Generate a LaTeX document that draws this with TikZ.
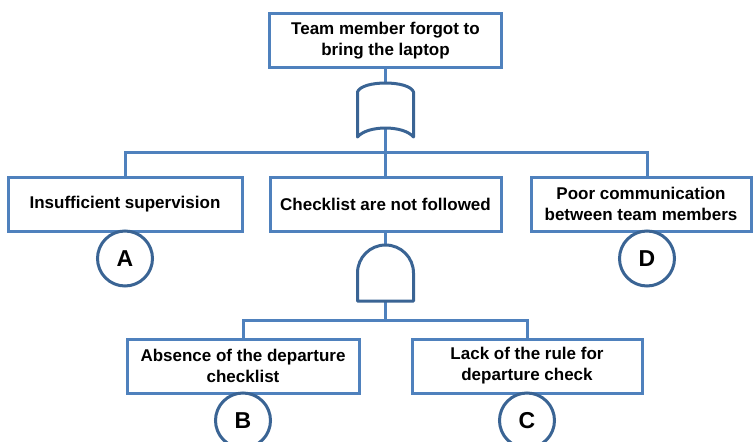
\documentclass[tikz,border=0pt]{standalone}
\usepackage{fontspec}
\setmainfont{Liberation Sans}
\usetikzlibrary{positioning}
\definecolor{boxblue}{HTML}{4F81BD}
\definecolor{gatedark}{HTML}{3A6494}

\begin{document}
\begin{tikzpicture}[
  x=1pt,y=-1pt,
  box/.style={draw=boxblue,line width=3pt,fill=white,minimum height=54pt,inner sep=2pt,align=center,font=\bfseries\fontsize{17}{21}\selectfont},
  evt/.style={circle,draw=gatedark,line width=3pt,fill=white,minimum size=55pt,inner sep=0pt,font=\bfseries\fontsize{23}{26}\selectfont},
  gate/.style={draw=gatedark,line width=3pt,fill=white,line join=round},
  link/.style={draw=boxblue,line width=3pt}
]
  \useasboundingbox (0,0) rectangle (753,442);

  % events
  \node[box,minimum width=232pt] (top) at (385.5,40.5) {Team member forgot to\\bring the laptop};
  \node[box,minimum width=234pt] (ins) at (125,204) {Insufficient supervision};
  \node[box,minimum width=231pt] (chk) at (385.5,204) {Checklist are not followed};
  \node[box,minimum width=220pt] (comm) at (641,204) {Poor communication\\between team members};
  \node[box,minimum width=232pt] (abs) at (243,366) {Absence of the departure\\checklist};
  \node[box,minimum width=230pt] (lack) at (527,366) {Lack of the rule for\\departure check};

  % gate ends and junctions
  \coordinate (or-in) at (385.5,83);
  \coordinate (or-out) at (385.5,128);
  \coordinate (bar1) at (385.5,152.5);
  \coordinate (and-in) at (385.5,245);
  \coordinate (and-out) at (385.5,301);
  \coordinate (bar2) at (385.5,320);

  % connectors
  \draw[link] (top) -- (or-in);
  \draw[link] (or-out) -- (bar1);
  \draw[link] (ins.north) |- (bar1) -| ([xshift=6pt]comm.north);
  \draw[link] (bar1) -- (chk);
  \draw[link] (chk) -- (and-in);
  \draw[link] (and-out) -- (bar2);
  \draw[link] (abs.north) |- (bar2) -| (lack.north);

  % OR gate
  \draw[gate] (357.5,137) -- (357.5,92) .. controls (361.5,80) and (409.5,80) .. (413.5,92)
    -- (413.5,137) .. controls (403.5,125) and (367.5,125) .. cycle;
  % AND gate
  \draw[gate] (357.5,301) -- (357.5,273) .. controls (357.5,257.5) and (370,245) .. (385.5,245)
    .. controls (401,245) and (413.5,257.5) .. (413.5,273) -- (413.5,301) -- cycle;

  % basic events
  \node[evt,below=-3pt of ins] (A) {A};
  \node[evt,below=-3pt of comm,xshift=6pt] (D) {D};
  \node[evt,below=-3pt of abs] (B) {B};
  \node[evt,below=-3pt of lack] (C) {C};
\end{tikzpicture}
\end{document}
